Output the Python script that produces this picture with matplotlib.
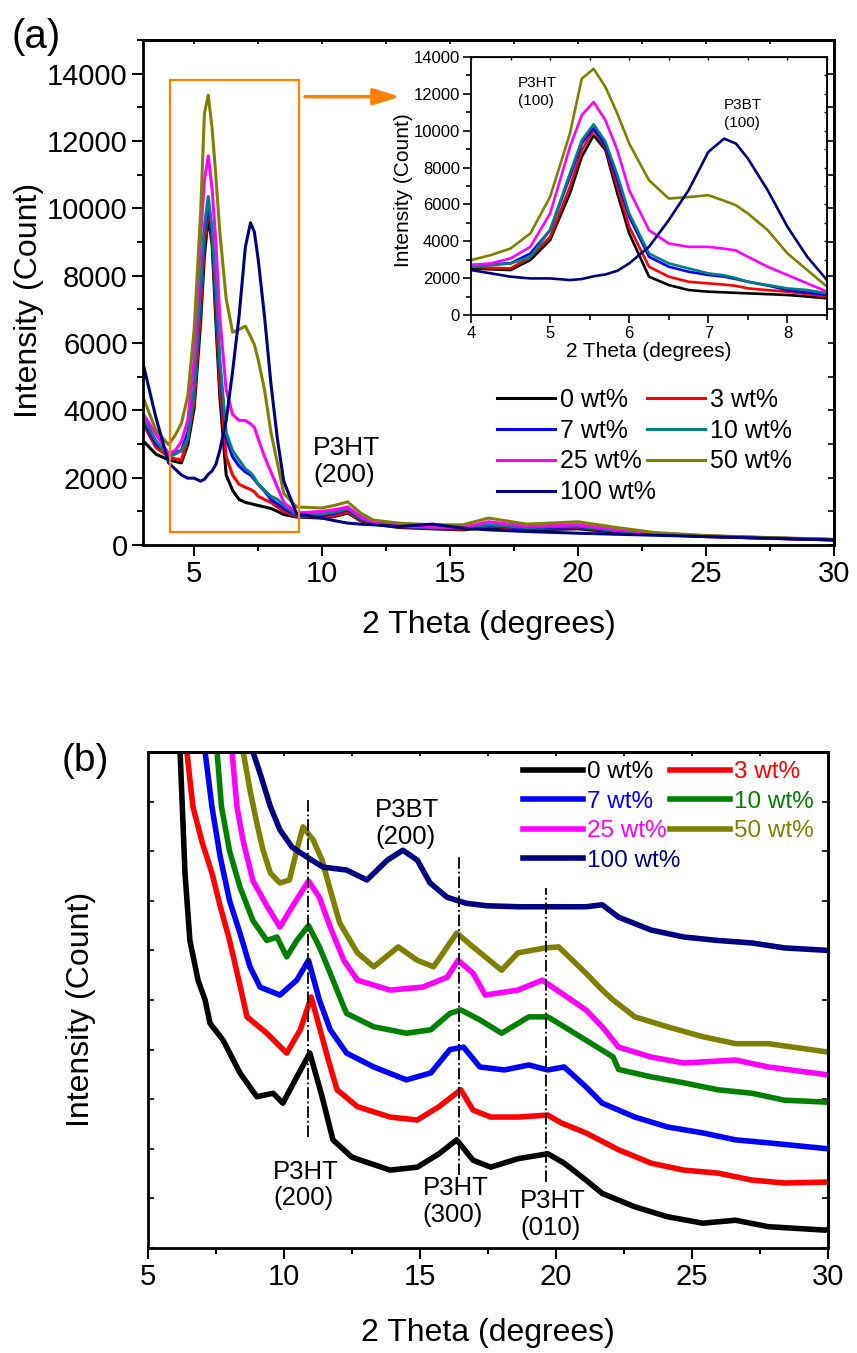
import matplotlib
matplotlib.use('Agg')
import matplotlib.pyplot as plt
from matplotlib.ticker import MultipleLocator, NullFormatter
from matplotlib.patches import Rectangle

plt.rcParams['font.family'] = ['Liberation Sans', 'DejaVu Sans']

# ---------------- data ----------------
labels = ['0 wt%', '3 wt%', '7 wt%', '10 wt%', '25 wt%', '50 wt%', '100 wt%']
colors_a = ['#000000', '#FF0000', '#0000FF', '#008080', '#FF00FF', '#808000', '#000080']
colors_b = ['#000000', '#FF0000', '#0000FF', '#008000', '#FF00FF', '#808000', '#000080']

# panel (a): raw intensity (counts)
two_theta_a = [3.0, 3.5, 4.0, 4.25, 4.5, 4.75, 5.0, 5.25, 5.4, 5.55, 5.7, 5.85, 6.0,
               6.25, 6.5, 6.75, 7.0, 7.2, 7.35, 7.5, 7.75, 8.0, 8.25, 8.5, 9.0, 10.0,
               10.5, 11.0, 11.5, 12.0, 13.0, 14.3, 15.5, 16.5, 18.0, 20.0, 21.5, 23.0,
               25.0, 27.5, 30.0]
a_0 = [3100, 2700, 2530, 2480, 2440, 2980, 4065, 6590, 8580, 9750, 8940, 6590, 4425,
       2080, 1625, 1355, 1265, 1230, 1200, 1175, 1130, 1085, 1000, 905, 830, 800,
       850, 950, 720, 620, 520, 480, 450, 520, 450, 480, 380, 320, 250, 200, 150]
a_3 = [3600, 2900, 2620, 2560, 2530, 3160, 4245, 6950, 8940, 10020, 9100, 6950, 4785,
       2620, 2080, 1805, 1715, 1650, 1580, 1445, 1350, 1265, 1130, 995, 850, 830,
       880, 980, 740, 640, 540, 500, 470, 560, 480, 520, 400, 320, 250, 200, 150]
a_7 = [3700, 3000, 2710, 2760, 2800, 3340, 4605, 7495, 9300, 10150, 9200, 7300, 5330,
       3160, 2620, 2350, 2170, 2080, 1950, 1805, 1600, 1355, 1220, 1085, 880, 880,
       950, 1050, 780, 660, 550, 510, 490, 580, 500, 540, 410, 330, 260, 210, 160]
a_10 = [3800, 3100, 2620, 2700, 2800, 3160, 4605, 7675, 9480, 10350, 9400, 7600, 5510,
        3340, 2800, 2530, 2260, 2150, 2000, 1805, 1625, 1445, 1355, 1175, 900, 920,
        980, 1080, 800, 670, 560, 520, 500, 600, 520, 560, 420, 340, 270, 210, 160]
a_25 = [3900, 3300, 2710, 2800, 3070, 3700, 5510, 9120, 10840, 11560, 10565, 8940, 6770,
        4605, 3880, 3700, 3700, 3600, 3500, 3160, 2620, 2170, 1720, 1265, 950, 1000,
        1050, 1130, 850, 680, 570, 530, 520, 690, 560, 600, 460, 350, 270, 210, 160]
a_50 = [4400, 3420, 2980, 3250, 3610, 4425, 6410, 9840, 12820, 13360, 12370, 10925, 9300,
        7310, 6320, 6400, 6500, 6200, 5950, 5510, 4605, 3340, 2440, 1535, 1130, 1100,
        1180, 1280, 950, 740, 650, 600, 600, 800, 620, 690, 520, 370, 280, 220, 170]
a_100 = [5400, 3800, 2440, 2260, 2080, 1985, 1985, 1895, 1950, 2100, 2200, 2400, 2800,
         3700, 5150, 6770, 8850, 9570, 9300, 8490, 6770, 4785, 3160, 1895, 930, 800,
         720, 650, 620, 600, 550, 620, 500, 450, 400, 350, 320, 290, 250, 200, 150]
series_a = [a_0, a_3, a_7, a_10, a_25, a_50, a_100]

# panel (b): stacked, offset intensity (a.u.)
b_x_0 = [6.0, 6.18, 6.36, 6.54, 6.84, 7.1, 7.28, 7.76, 8.38, 9.0, 9.6, 9.96, 10.47, 10.95,
         11.4, 11.8, 12.5, 13.9, 14.9, 15.7, 16.35, 16.95, 17.6, 18.6, 19.7, 20.3, 21.1,
         21.7, 22.9, 24.1, 25.4, 26.6, 27.8, 29.9, 30.0]
b_y_0 = [11.5, 10.0, 7.56, 6.2, 5.4, 5.0, 4.53, 4.19, 3.53, 3.05, 3.12, 2.92, 3.45, 3.93,
         3.05, 2.18, 1.83, 1.57, 1.63, 1.9, 2.18, 1.77, 1.63, 1.8, 1.9, 1.71, 1.37,
         1.1, 0.83, 0.63, 0.5, 0.56, 0.43, 0.36, 0.38]
b_x_3 = [6.35, 6.43, 6.65, 6.98, 7.35, 7.65, 8.0, 8.38, 8.64, 9.37, 10.1, 10.6, 11.0, 11.6,
         11.95, 12.7, 13.9, 14.9, 15.7, 16.5, 16.95, 17.6, 18.6, 19.7, 20.2, 21.1, 22.3,
         23.5, 24.7, 25.95, 27.2, 28.4, 30.0]
b_y_3 = [11.0, 10.0, 8.9, 8.2, 7.56, 6.9, 6.2, 5.3, 4.66, 4.33, 3.93, 4.4, 5.06, 3.85,
         3.19, 2.85, 2.64, 2.58, 2.85, 3.19, 2.78, 2.64, 2.64, 2.68, 2.52, 2.32, 1.98,
         1.71, 1.57, 1.51, 1.37, 1.31, 1.33]
b_x_7 = [7.0, 7.1, 7.35, 7.65, 8.0, 8.38, 8.75, 9.12, 9.85, 10.47, 10.9, 11.3, 11.7, 12.3,
         13.3, 14.5, 15.4, 16.1, 16.6, 17.2, 18.1, 19.0, 19.7, 20.3, 21.1, 21.7, 22.9,
         24.1, 25.4, 26.6, 27.8, 30.0]
b_y_7 = [11.0, 10.0, 8.9, 7.9, 7.0, 6.35, 5.67, 5.26, 5.1, 5.4, 5.8, 5.0, 4.4, 3.93,
         3.65, 3.39, 3.53, 4.0, 4.05, 3.65, 3.59, 3.69, 3.59, 3.65, 3.25, 2.92, 2.64,
         2.44, 2.32, 2.18, 2.12, 2.0]
b_x_10 = [7.45, 7.54, 7.7, 8.0, 8.38, 8.86, 9.37, 9.74, 10.1, 10.47, 10.9, 11.3, 11.7,
          12.05, 12.3, 13.3, 14.5, 15.4, 16.1, 16.5, 17.2, 18.0, 19.0, 19.7, 20.3, 21.1,
          22.1, 22.3, 23.5, 24.7, 25.95, 27.2, 28.4, 30.0]
b_y_10 = [11.0, 10.0, 8.9, 8.0, 7.28, 6.6, 6.2, 6.27, 5.87, 6.2, 6.5, 6.07, 5.54,
          5.06, 4.73, 4.46, 4.33, 4.4, 4.73, 4.8, 4.6, 4.33, 4.66, 4.66, 4.46, 4.19,
          3.85, 3.6, 3.45, 3.33, 3.19, 3.12, 2.98, 2.94]
b_x_25 = [8.0, 8.09, 8.27, 8.5, 8.86, 9.37, 9.85, 10.3, 10.9, 11.3, 11.7, 12.2, 12.7,
          13.9, 15.1, 16.0, 16.4, 16.95, 17.4, 18.6, 19.5, 20.3, 21.1, 21.7, 22.3,
          23.5, 24.7, 26.6, 27.8, 30.0]
b_y_25 = [11.0, 10.0, 8.9, 8.2, 7.4, 6.9, 6.47, 6.88, 7.4, 7.07, 6.47, 5.8, 5.4,
          5.2, 5.26, 5.46, 5.8, 5.54, 5.1, 5.2, 5.4, 5.1, 4.8, 4.46, 4.05,
          3.85, 3.73, 3.79, 3.65, 3.49]
b_x_50 = [8.4, 8.5, 8.75, 9.0, 9.23, 9.5, 9.85, 10.2, 10.47, 10.7, 11.07, 11.4, 11.7,
          12.05, 12.7, 13.3, 14.2, 14.9, 15.5, 16.0, 16.35, 16.95, 17.4, 18.0, 18.6,
          19.6, 20.1, 21.1, 21.7, 22.1, 22.9, 24.1, 25.4, 26.6, 27.8, 30.0]
b_y_50 = [11.0, 10.0, 9.23, 8.57, 8.02, 7.56, 7.36, 7.42, 8.02, 8.49, 8.23, 7.82, 7.22,
          6.55, 5.95, 5.67, 6.07, 5.8, 5.67, 6.07, 6.35, 6.07, 5.87, 5.6, 5.95,
          6.05, 6.07, 5.54, 5.2, 5.0, 4.66, 4.46, 4.26, 4.12, 4.12, 3.95]
b_x_100 = [8.75, 8.86, 9.12, 9.5, 9.85, 10.3, 10.85, 11.43, 12.3, 13.05, 13.8, 14.37,
           14.9, 15.37, 16.0, 16.7, 17.45, 18.6, 19.7, 21.1, 21.7, 22.3, 23.5, 24.7,
           25.95, 27.2, 28.4, 30.0]
b_y_100 = [11.0, 10.0, 9.57, 8.9, 8.43, 8.08, 7.88, 7.68, 7.62, 7.42, 7.82, 8.02,
           7.82, 7.36, 7.07, 6.95, 6.9, 6.88, 6.88, 6.88, 6.92, 6.67, 6.41, 6.27,
           6.2, 6.15, 6.05, 6.0]
series_b = [(b_x_0, b_y_0), (b_x_3, b_y_3), (b_x_7, b_y_7), (b_x_10, b_y_10),
            (b_x_25, b_y_25), (b_x_50, b_y_50), (b_x_100, b_y_100)]

# peak guide lines in (b)
guide_x = [10.88, 16.43, 19.63]
guide_ymin = [2.24, 1.47, 1.33]
guide_ymax = [9.03, 7.92, 7.26]

# ---------------- figure ----------------
W, H = 857, 1353
fig = plt.figure(figsize=(W / 100, H / 100), dpi=100)

def fax(l, t, r, b):
    return [l / W, 1 - b / H, (r - l) / W, (b - t) / H]

axA = fig.add_axes(fax(143, 40, 834, 545))
axB = fig.add_axes(fax(148, 752, 828, 1248))
axI = fig.add_axes(fax(471, 57, 827, 315))

ORANGE = '#FF8000'

# ---- panel (a) ----
handles = []
for ys, c, lab in zip(series_a, colors_a, labels):
    h, = axA.plot(two_theta_a, ys, color=c, lw=2.2, label=lab)
    handles.append(h)
axA.set_xlim(3, 30)
axA.set_ylim(0, 15000)
axA.xaxis.set_major_locator(MultipleLocator(5))
axA.xaxis.set_minor_locator(MultipleLocator(2.5))
axA.set_yticks(range(0, 14001, 2000))
axA.yaxis.set_minor_locator(MultipleLocator(1000))
axA.tick_params(which='major', direction='out', length=8, width=1.5, labelsize=21, pad=3)
axA.tick_params(which='minor', direction='out', length=4.5, width=1.5)
for s in axA.spines.values():
    s.set_linewidth(2)
axA.set_xlabel('2 Theta (degrees)', fontsize=23, va='center')
axA.xaxis.set_label_coords(0.5, -0.158)
axA.set_ylabel('Intensity (Count)', fontsize=23, va='center')
axA.yaxis.set_label_coords(-0.165, 0.485)

sx = axA.secondary_xaxis('top')
sx.xaxis.set_major_locator(MultipleLocator(5))
sx.xaxis.set_minor_locator(MultipleLocator(2.5))
sx.tick_params(which='both', direction='in', length=3, width=1.2, labeltop=False)
sx.spines['top'].set_linewidth(2)
sy = axA.secondary_yaxis('right')
sy.yaxis.set_major_locator(MultipleLocator(2000))
sy.yaxis.set_minor_locator(MultipleLocator(1000))
sy.tick_params(which='both', direction='in', length=4, width=1.2, labelright=False)
sy.spines['right'].set_linewidth(2)

axA.add_patch(Rectangle((4.05, 390), 9.1 - 4.05, 13800 - 390, fill=False,
                        edgecolor=ORANGE, lw=1.6, zorder=5))
axA.annotate('', xy=(13.04, 13316), xytext=(9.33, 13316),
             arrowprops=dict(arrowstyle='-|>,head_length=0.8,head_width=0.25',
                             color=ORANGE, lw=2.5, mutation_scale=20,
                             shrinkA=0, shrinkB=0))
axA.text(9.64, 2470, 'P3HT\n(200)', fontsize=19, ha='left', va='center',
         linespacing=1.15)

order = [0, 2, 4, 6, 1, 3, 5]
legA = axA.legend([handles[i] for i in order], [labels[i] for i in order],
                  ncol=2, loc='upper left',
                  bbox_to_anchor=((497 - 143) / 691, (545 - 388) / 505),
                  frameon=False, fontsize=18, handlelength=2.32, handletextpad=0.2,
                  columnspacing=-0.36, labelspacing=0.27, borderpad=0, borderaxespad=0)

# ---- inset ----
for ys, c in zip(series_a, colors_a):
    axI.plot(two_theta_a, ys, color=c, lw=1.9)
axI.set_xlim(4, 8.5)
axI.set_ylim(0, 14000)
axI.xaxis.set_major_locator(MultipleLocator(1))
axI.xaxis.set_minor_locator(MultipleLocator(0.5))
axI.yaxis.set_major_locator(MultipleLocator(2000))
axI.yaxis.set_minor_locator(MultipleLocator(1000))
axI.tick_params(which='major', direction='out', length=6, width=1.2, labelsize=12, pad=2)
axI.tick_params(which='minor', direction='out', length=3.5, width=1.2)
for s in axI.spines.values():
    s.set_linewidth(1.3)
axI.set_xlabel('2 Theta (degrees)', fontsize=15, va='center')
axI.xaxis.set_label_coords(0.5, -0.143)
axI.set_ylabel('Intensity (Count)', fontsize=15, va='center')
axI.yaxis.set_label_coords(-0.191, 0.484)
isx = axI.secondary_xaxis('top')
isx.xaxis.set_major_locator(MultipleLocator(1))
isx.xaxis.set_minor_locator(MultipleLocator(0.5))
isx.tick_params(which='both', direction='in', length=2.5, width=1, labeltop=False)
isy = axI.secondary_yaxis('right')
isy.yaxis.set_major_locator(MultipleLocator(2000))
isy.yaxis.set_minor_locator(MultipleLocator(1000))
isy.tick_params(which='both', direction='in', length=2.5, width=1, labelright=False)
axI.text(4.594, 12100, 'P3HT\n(100)', fontsize=11, ha='left', va='center', linespacing=1.3)
axI.text(7.2, 10906, 'P3BT\n(100)', fontsize=11, ha='left', va='center', linespacing=1.3)

# ---- panel (b) ----
hb = []
for (xs, ys), c, lab in zip(series_b, colors_b, labels):
    h, = axB.plot(xs, ys, color=c, lw=4, label=lab)
    hb.append(h)
for gx, g0, g1 in zip(guide_x, guide_ymin, guide_ymax):
    axB.plot([gx, gx], [g0, g1], color='black', lw=1.3, ls='-.', zorder=5)
axB.set_xlim(5, 30)
axB.set_ylim(0, 10)
axB.xaxis.set_major_locator(MultipleLocator(5))
axB.xaxis.set_minor_locator(MultipleLocator(2.5))
axB.yaxis.set_major_locator(MultipleLocator(1))
axB.yaxis.set_major_formatter(NullFormatter())
axB.tick_params(axis='x', which='major', direction='out', length=8, width=1.5, labelsize=21, pad=3)
axB.tick_params(axis='x', which='minor', direction='out', length=4.5, width=1.5)
axB.tick_params(axis='y', which='major', direction='in', length=4, width=1.2)
for s in axB.spines.values():
    s.set_linewidth(2)
axB.set_xlabel('2 Theta (degrees)', fontsize=23, va='center')
axB.xaxis.set_label_coords(0.5, -0.171)
axB.set_ylabel('Intensity (Count)', fontsize=23, va='center')
axB.yaxis.set_label_coords(-0.0985, 0.48)
bsx = axB.secondary_xaxis('top')
bsx.xaxis.set_major_locator(MultipleLocator(2.5))
bsx.tick_params(which='both', direction='in', length=3, width=1.2, labeltop=False)
bsx.spines['top'].set_linewidth(2)
bsy = axB.secondary_yaxis('right')
bsy.yaxis.set_major_locator(MultipleLocator(1))
bsy.tick_params(which='both', direction='in', length=4, width=1.2, labelright=False)
bsy.spines['right'].set_linewidth(2)

axB.text(13.35, 8.55, 'P3BT\n(200)', fontsize=18.5, ha='left', va='center', linespacing=1.15)
axB.text(9.6, 1.27, 'P3HT\n(200)', fontsize=18.5, ha='left', va='center', linespacing=1.15)
axB.text(15.1, 0.93, 'P3HT\n(300)', fontsize=18.5, ha='left', va='center', linespacing=1.15)
axB.text(18.68, 0.67, 'P3HT\n(010)', fontsize=18.5, ha='left', va='center', linespacing=1.15)

legB = axB.legend([hb[i] for i in order], [labels[i] for i in order],
                  ncol=2, loc='upper left',
                  bbox_to_anchor=((523 - 148) / 680, (1248 - 761) / 496),
                  frameon=False, fontsize=17.5, handlelength=2.47, handletextpad=0.16,
                  columnspacing=-0.41, labelspacing=0.31, borderpad=0, borderaxespad=0,
                  labelcolor='linecolor')

fig.text(12 / W, 1 - 37.5 / H, '(a)', fontsize=29, ha='left', va='center')
fig.text(62 / W, 1 - 761 / H, '(b)', fontsize=28, ha='left', va='center')

fig.savefig('out.png', dpi=100)
